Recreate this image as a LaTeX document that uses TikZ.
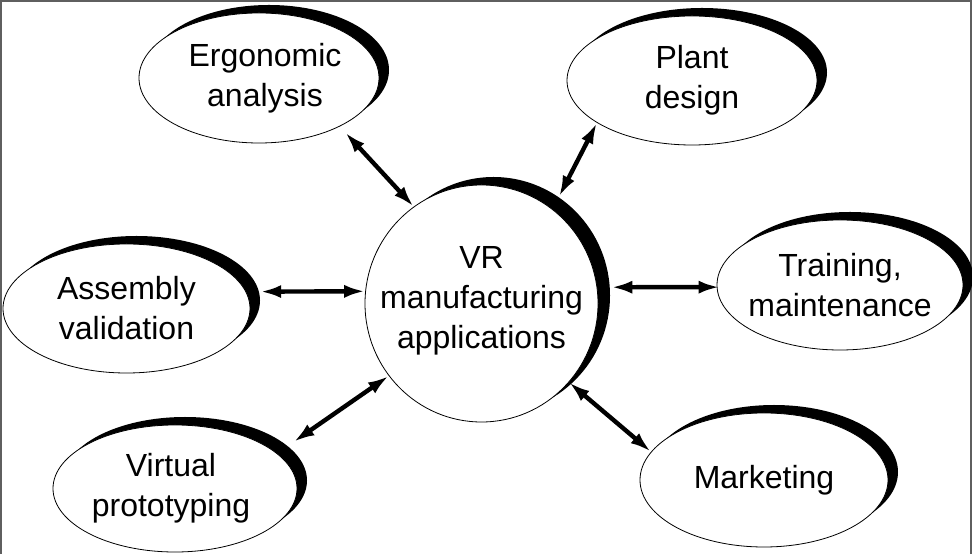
\documentclass[tikz,border=0pt]{standalone}
\usepackage{fontspec}
\setmainfont{Liberation Sans}
\usepackage{tikz}
\usetikzlibrary{arrows.meta,shapes.geometric,shadows}
\definecolor{vrink}{RGB}{0,0,0}
\definecolor{vrrim}{RGB}{95,95,95}
\tikzset{
  blob/.style={ellipse, draw=vrink, fill=white, line width=0.8pt, inner sep=0pt},
  app/.style={blob, minimum width=246pt, minimum height=130pt,
    drop shadow={shadow xshift=10pt, shadow yshift=8pt, fill=vrink, opacity=1}},
  hub/.style={blob, minimum width=233pt, minimum height=237pt,
    drop shadow={shadow xshift=12pt, shadow yshift=8pt, fill=vrink, opacity=1}},
  lbl/.style={align=center, inner sep=0pt, font=\fontsize{32}{40}\selectfont},
  link/.style={{Latex[length=21pt,width=13pt]}-{Latex[length=21pt,width=13pt]}, draw=vrink, line width=4.4pt},
  rim/.style={draw=vrrim, line width=2pt}
}

\begin{document}
\begin{tikzpicture}[x=1pt, y=1pt]
  \useasboundingbox (0,0) rectangle (972,554);
  \draw[rim] (1,0) -- (1,553) -- (971,553) -- (971,0);
  % hub and the six applications
  \node[hub] (vr) at (481.5,250.5) {};
  \node[app, minimum width=240pt] (ergo) at (259,476) {};
  \node[app, minimum width=250pt, minimum height=129pt] (plant) at (692,473.5) {};
  \node[app, minimum width=247pt, minimum height=129pt] (assy) at (126.5,245.5) {};
  \node[app] (train) at (840,269) {};
  \node[app, minimum width=244pt, minimum height=127pt] (virt) at (175,65.5) {};
  \node[app, minimum width=248pt, minimum height=134pt] (mkt) at (764,74) {};
  % texts
  \node[lbl] at ([yshift=3pt]vr) {VR\\manufacturing\\applications};
  \node[lbl] at ([xshift=6pt]ergo) {Ergonomic\\analysis};
  \node[lbl] at (plant) {Plant\\design};
  \node[lbl] at (assy) {Assembly\\validation};
  \node[lbl] at (train) {Training,\\maintenance};
  \node[lbl] at ([xshift=-4pt]virt) {Virtual\\prototyping};
  \node[lbl] at (mkt) {Marketing};
  % two-way links
  \foreach \p/\a/\b/\s/\t in {ergo/329/125/8pt/0pt, plant/204/53/0pt/14pt,
      assy/8/174/14pt/0pt, train/181/8/-3pt/14pt,
      virt/19/218/20pt/0pt, mkt/166/318/0pt/0pt}
    \draw[link, shorten <=\s, shorten >=\t] (\p.\a) -- (vr.\b);
\end{tikzpicture}
\end{document}
